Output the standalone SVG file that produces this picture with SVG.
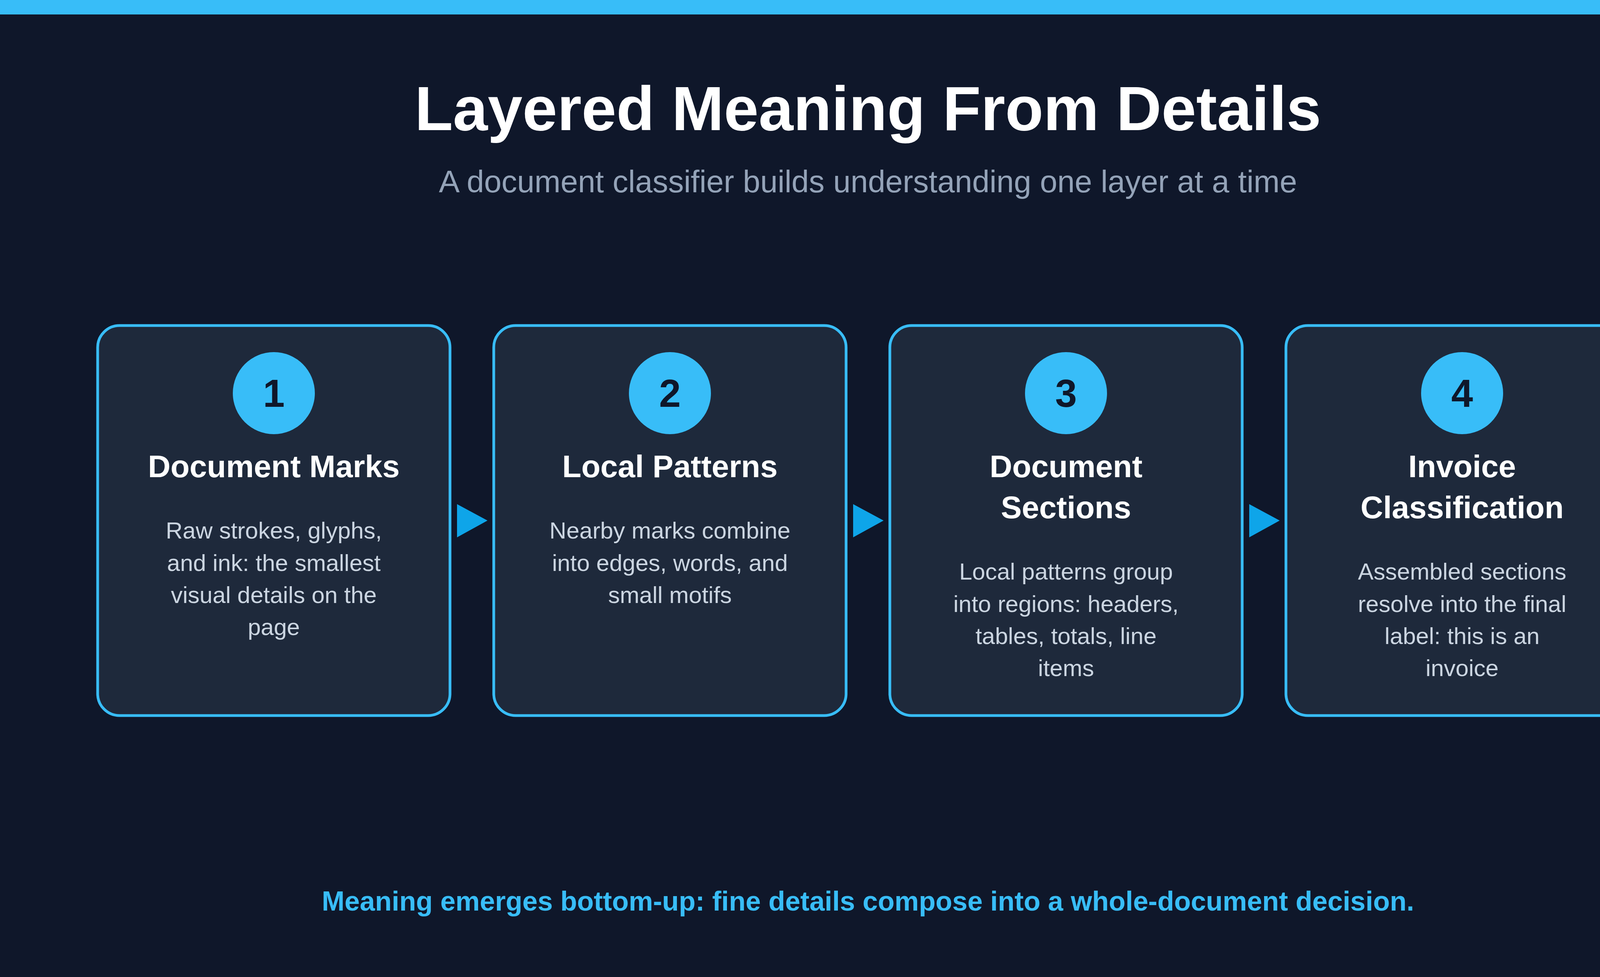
<svg xmlns="http://www.w3.org/2000/svg" width="4444" height="2500" viewBox="0 0 4444 2500">
<style>
text{font-family:"Liberation Sans",Arial,sans-serif;text-anchor:middle}
.box{fill:#1e293b;stroke:#38bdf8;stroke-width:7}
.num{fill:#0f172a;font-size:100px;font-weight:bold}
.head{fill:#ffffff;font-size:80px;font-weight:bold}
.body{fill:#cbd5e1;font-size:60px}
.arr{fill:#0ea5e9}
</style>
<rect width="4444" height="2500" fill="#0f172a"/>
<rect width="4444" height="37" fill="#38bdf8"/>
<text x="2222" y="333" font-size="160" font-weight="bold" fill="#ffffff">Layered Meaning From Details</text>
<text x="2222" y="492" font-size="80" fill="#94a3b8">A document classifier builds understanding one layer at a time</text>
<g id="node1"><rect class="box" x="250" y="833" width="902" height="998" rx="56"/><circle cx="701" cy="1006" r="105" fill="#38bdf8"/><text class="num" x="701" y="1041">1</text><text class="head" x="701" y="1221">Document Marks</text><text class="body" x="701" y="1378">Raw strokes, glyphs,</text><text class="body" x="701" y="1461">and ink: the smallest</text><text class="body" x="701" y="1543">visual details on the</text><text class="body" x="701" y="1625">page</text></g>
<g id="node2"><rect class="box" x="1264" y="833" width="902" height="998" rx="56"/><circle cx="1715" cy="1006" r="105" fill="#38bdf8"/><text class="num" x="1715" y="1041">2</text><text class="head" x="1715" y="1221">Local Patterns</text><text class="body" x="1715" y="1378">Nearby marks combine</text><text class="body" x="1715" y="1461">into edges, words, and</text><text class="body" x="1715" y="1543">small motifs</text></g>
<g id="node3"><rect class="box" x="2278" y="833" width="902" height="998" rx="56"/><circle cx="2729" cy="1006" r="105" fill="#38bdf8"/><text class="num" x="2729" y="1041">3</text><text class="head" x="2729" y="1221">Document</text><text class="head" x="2729" y="1326">Sections</text><text class="body" x="2729" y="1483">Local patterns group</text><text class="body" x="2729" y="1566">into regions: headers,</text><text class="body" x="2729" y="1648">tables, totals, line</text><text class="body" x="2729" y="1730">items</text></g>
<g id="node4"><rect class="box" x="3292" y="833" width="902" height="998" rx="56"/><circle cx="3743" cy="1006" r="105" fill="#38bdf8"/><text class="num" x="3743" y="1041">4</text><text class="head" x="3743" y="1221">Invoice</text><text class="head" x="3743" y="1326">Classification</text><text class="body" x="3743" y="1483">Assembled sections</text><text class="body" x="3743" y="1566">resolve into the final</text><text class="body" x="3743" y="1648">label: this is an</text><text class="body" x="3743" y="1730">invoice</text></g>
<g id="connectors"><polygon class="arr" points="1170,1290 1248,1332 1170,1375"/><polygon class="arr" points="2184,1290 2262,1332 2184,1375"/><polygon class="arr" points="3198,1290 3276,1332 3198,1375"/></g>
<text x="2222" y="2330" font-size="70" font-weight="bold" fill="#38bdf8">Meaning emerges bottom-up: fine details compose into a whole-document decision.</text>
</svg>
